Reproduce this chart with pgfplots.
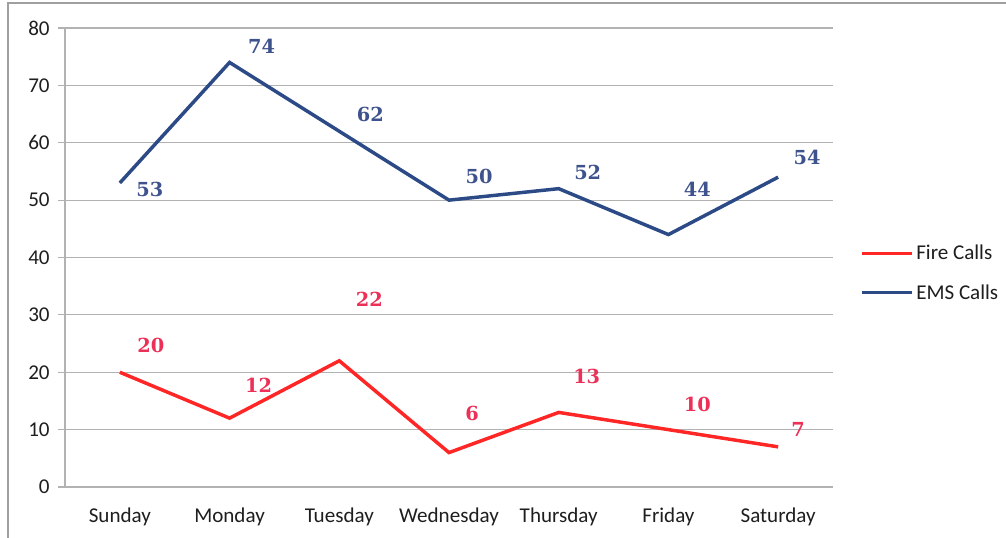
\documentclass[border=0pt]{standalone}
\usepackage{pgfplots}
\usepackage{pgfplotstable}
\usepackage{fontspec}
\pgfplotsset{compat=1.18}
\setmainfont{Carlito}
\newfontfamily\lblfont{DejaVu Serif}
\definecolor{emsline}{RGB}{43,74,134}
\definecolor{emslabel}{RGB}{62,82,142}
\definecolor{fireline}{RGB}{255,38,38}
\definecolor{firelabel}{RGB}{236,48,88}
\definecolor{gridgray}{RGB}{178,178,178}
\definecolor{ticktext}{RGB}{30,30,30}

\pgfplotstableread{
x y dx dy
0 53 30 -7
1 74 32 16
2 62 31 17
3 50 30 24
4 52 29 16
5 44 29 45
6 54 29 20
}\ems
\pgfplotstableread{
x y dx dy
0 20 31 27
1 12 29 33
2 22 30 61
3 6 23 39
4 13 28 36
5 10 29 25
6 7 20 17
}\fire

\begin{document}
\begin{tikzpicture}
\begin{axis}[
  scale only axis,
  width=576pt, height=344.25pt,
  at={(0,0)}, anchor=south west,
  xmin=-0.5, xmax=6.5, ymin=0, ymax=80,
  axis x line=bottom, axis y line=left,
  axis line style={gridgray, line width=0.9pt, -},
  xtick={0,...,6},
  xticklabels={Sunday,Monday,Tuesday,Wednesday,Thursday,Friday,Saturday},
  minor xtick={-0.5,0.5,...,6.5},
  ytick={0,10,...,80},
  tick align=outside,
  major tick length=5pt,
  minor tick length=6pt,
  xtick style={draw=none},
  minor x tick style={gridgray, line width=0.9pt},
  ytick style={gridgray, line width=0.9pt},
  ymajorgrids,
  grid style={gridgray, line width=0.9pt},
  tick label style={font=\fontsize{15.8}{18}\selectfont, text=ticktext},
  /pgf/number format/assume math mode=true,
  xticklabel style={yshift=-7pt},
  yticklabel style={xshift=-3pt},
  legend style={at={(1.035,0.466)}, anchor=west, draw=none, fill=none,
    font=\fontsize{15.8}{18}\selectfont, text=ticktext, row sep=13pt,
    inner sep=0pt},
  legend cell align=left,
  legend image code/.code={\draw[#1] (0pt,0pt) -- (37.5pt,0pt);},
  clip=false,
]
\addplot[fireline, line width=2.6pt] table[x=x,y=y]{\fire};
\addlegendentry{Fire Calls}
\addplot[emsline, line width=2.6pt] table[x=x,y=y]{\ems};
\addlegendentry{EMS Calls}

\addplot[draw=none, forget plot,
  nodes near coords, point meta=explicit symbolic,
  visualization depends on={\thisrow{dx} \as \dx},
  visualization depends on={\thisrow{dy} \as \dy},
  every node near coord/.append style={anchor=center, xshift=\dx*0.75pt, yshift=\dy*0.75pt,
    font=\lblfont\bfseries\fontsize{14.5}{16}\selectfont, text=firelabel}]
  table[x=x,y=y,meta=y]{\fire};
\addplot[draw=none, forget plot,
  nodes near coords, point meta=explicit symbolic,
  visualization depends on={\thisrow{dx} \as \dx},
  visualization depends on={\thisrow{dy} \as \dy},
  every node near coord/.append style={anchor=center, xshift=\dx*0.75pt, yshift=\dy*0.75pt,
    font=\lblfont\bfseries\fontsize{14.5}{16}\selectfont, text=emslabel}]
  table[x=x,y=y,meta=y]{\ems};
\end{axis}
\draw[gray!75, line width=1.4pt] (-42.75pt,-40pt) -- (-42.75pt,363pt) -- (706pt,363pt);
\pgfresetboundingbox
\path[use as bounding box] (-48.75pt,-37.5pt) rectangle (705.75pt,365.25pt);
\end{tikzpicture}
\end{document}
